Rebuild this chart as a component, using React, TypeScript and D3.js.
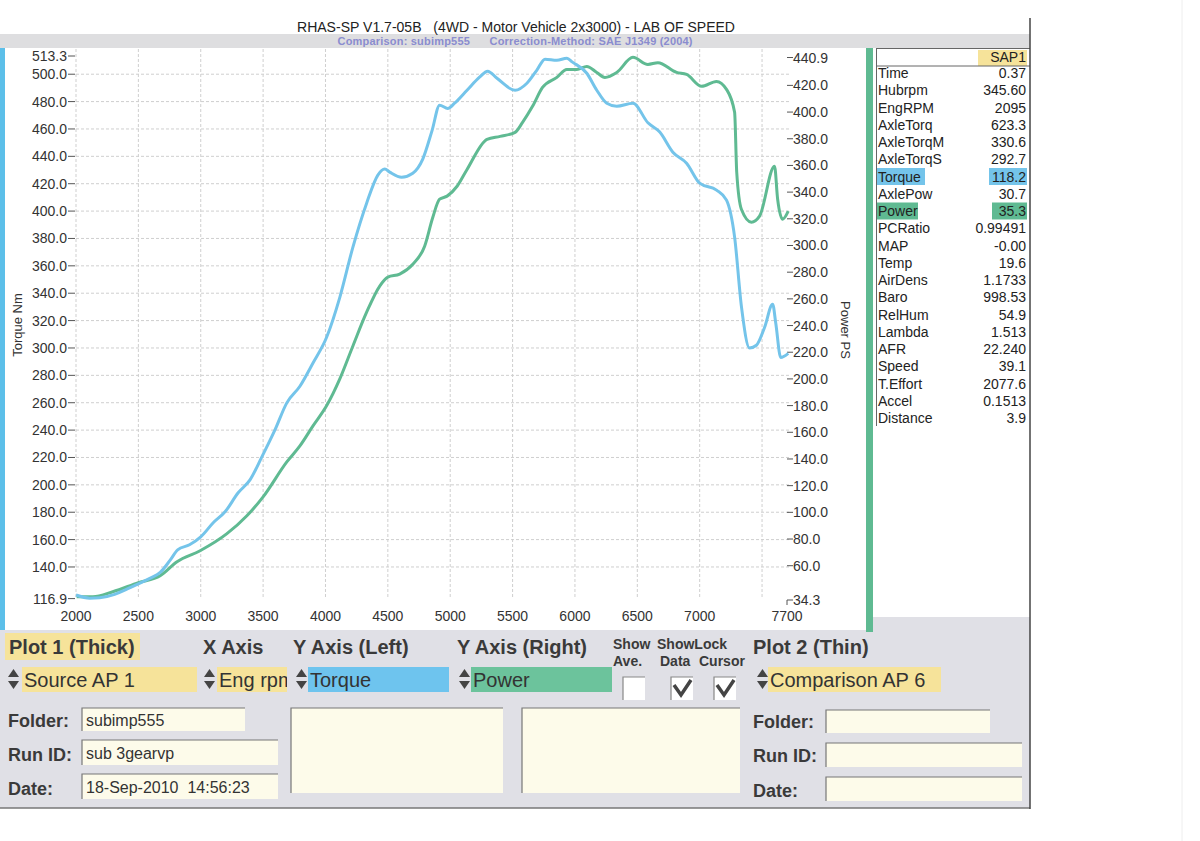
import React from "react";
import * as d3 from "d3";

// ---------- data ----------
const torqueRpm = [2000, 2110, 2190, 2310, 2400, 2500, 2600, 2675, 2755, 2815, 2910, 3000, 3100, 3195, 3300, 3395, 3490, 3595, 3690, 3795, 3900, 4010, 4115, 4220, 4330, 4420, 4475, 4515, 4610, 4700, 4780, 4855, 4915, 4980, 5035, 5135, 5235, 5300, 5375, 5520, 5615, 5695, 5760, 5855, 5935, 5980, 6095, 6175, 6255, 6335, 6465, 6585, 6680, 6785, 6895, 7000, 7135, 7215, 7280, 7335, 7400, 7455, 7520, 7585, 7610, 7650, 7710];
const torqueNm = [119.5, 117.2, 117.5, 120, 123.5, 127.7, 132, 136, 145, 152.5, 156.2, 162, 172.3, 180.3, 194.2, 203.6, 220.4, 240.1, 259.9, 272, 289, 308, 337, 373.7, 405.8, 426.3, 430.7, 428.5, 424.8, 427.7, 438, 459, 477.4, 475, 478.8, 488.3, 497.8, 502.2, 497, 488.3, 493.4, 503, 511, 510.2, 511.7, 508.8, 500.7, 488.3, 478.8, 476.6, 478.8, 464.5, 457.7, 443, 435, 420.4, 415.3, 408, 381, 330, 300, 302, 315, 332, 318, 293, 296];

const powerRpm = [2005, 2135, 2295, 2500, 2675, 2810, 2995, 3210, 3370, 3500, 3690, 3795, 3900, 4010, 4115, 4220, 4330, 4435, 4500, 4595, 4700, 4795, 4860, 4915, 4975, 5055, 5135, 5295, 5400, 5520, 5580, 5660, 5740, 5855, 5935, 6015, 6095, 6175, 6240, 6335, 6465, 6585, 6665, 6815, 6895, 7015, 7135, 7215, 7280, 7297, 7335, 7415, 7480, 7600, 7625, 7665, 7710];
const powerPS = [36.8, 36.8, 40.5, 47.3, 52.5, 63, 71.2, 84, 97.4, 111.6, 137.8, 149.8, 164.8, 180, 200, 224.7, 250, 269.6, 276.3, 278.6, 286, 299.5, 321, 334.7, 337, 344.4, 357, 379.6, 381.8, 384.8, 392.3, 404.3, 418.5, 426, 432, 432, 434.2, 429.7, 426, 429.7, 441, 435.7, 437, 429.7, 428.2, 419.3, 423, 417, 399.8, 354.9, 327, 317.5, 322, 359.4, 334.7, 319.7, 325.7];

const xTicks = [2000, 2500, 3000, 3500, 4000, 4500, 5000, 5500, 6000, 6500, 7000, 7700];
const xGrid = [2000, 2500, 3000, 3500, 4000, 4500, 5000, 5500, 6000, 6500, 7000, 7500];
const leftTicks = [116.9, 140, 160, 180, 200, 220, 240, 260, 280, 300, 320, 340, 360, 380, 400, 420, 440, 460, 480, 500, 513.3];
const rightTicks = [34.3, 60, 80, 100, 120, 140, 160, 180, 200, 220, 240, 260, 280, 300, 320, 340, 360, 380, 400, 420, 440.9];

const panelLabels = ["Time", "Hubrpm", "EngRPM", "AxleTorq", "AxleTorqM", "AxleTorqS", "Torque", "AxlePow", "Power", "PCRatio", "MAP", "Temp", "AirDens", "Baro", "RelHum", "Lambda", "AFR", "Speed", "T.Effort", "Accel", "Distance"];
const panelValues = ["0.37", "345.60", "2095", "623.3", "330.6", "292.7", "118.2", "30.7", "35.3", "0.99491", "-0.00", "19.6", "1.1733", "998.53", "54.9", "1.513", "22.240", "39.1", "2077.6", "0.1513", "3.9"];

const TITLE = "RHAS-SP V1.7-05B   (4WD - Motor Vehicle 2x3000) - LAB OF SPEED";
const SUBTITLE = "Comparison: subimp555      Correction-Method: SAE J1349 (2004)";

// ---------- styles ----------
const FONT = "'Liberation Sans', Arial, sans-serif";
const BLUE = "#74c4ea";
const GREEN = "#5fba92";
const TEXT = "#333";

function Spinner({ x, y }: { x: number; y: number }) {
  return (
    <g fill="#444">
      <path d={`M${x},${y + 8} L${x + 5.5},${y} L${x + 11},${y + 8} Z`} />
      <path d={`M${x},${y + 12} L${x + 5.5},${y + 20} L${x + 11},${y + 12} Z`} />
    </g>
  );
}

function InBox({ x, y, w, h, fill = "#fdfbea" }: { x: number; y: number; w: number; h: number; fill?: string }) {
  return (
    <g>
      <rect x={x} y={y} width={w} height={h} fill={fill} />
      <path d={`M${x},${y + h} L${x},${y} L${x + w},${y}`} fill="none" stroke="#777" strokeWidth={1.2} />
    </g>
  );
}

function Check({ x, y, checked }: { x: number; y: number; checked: boolean }) {
  return (
    <g>
      <rect x={x} y={y} width={22} height={23} fill="#fff" />
      <path d={`M${x},${y + 23} L${x},${y} L${x + 22},${y}`} fill="none" stroke="#888" strokeWidth={1.2} />
      {checked && (
        <path d={`M${x + 3},${y + 8} L${x + 10},${y + 18} L${x + 20},${y + 3}`} fill="none" stroke="#444" strokeWidth={3.5} strokeLinejoin="miter" />
      )}
    </g>
  );
}

export default function App() {
  const x = d3.scaleLinear().domain([2000, 7700]).range([76, 787]);
  const yL = d3.scaleLinear().domain([116.9, 513.3]).range([598.6, 56]);
  const yR = d3.scaleLinear().domain([34.3, 440.9]).range([600, 57.5]);

  const torqueLine = d3
    .line<number>()
    .x((_, i) => x(torqueRpm[i]))
    .y((d) => yL(d))
    .curve(d3.curveMonotoneX);
  const powerLine = d3
    .line<number>()
    .x((_, i) => x(powerRpm[i]))
    .y((d) => yR(d))
    .curve(d3.curveMonotoneX);

  const rowY = (i: number) => 73 + i * 17.25;

  return (
    <svg
      width={1200}
      height={841}
      style={{ position: "absolute", left: 0, top: 0, background: "#fff" }}
      fontFamily={FONT}
    >
      {/* top band */}
      <rect x={0} y={34} width={1030} height={14} fill="#dedee0" />
      {/* plot background */}
      <rect x={5} y={48} width={861} height={582} fill="#fff" />
      <rect x={0} y={48} width={5} height={582} fill="#5cbfe9" />
      <rect x={866} y={48} width={7} height={584} fill={GREEN} />

      {/* title */}
      <text x={516} y={32} textAnchor="middle" fontSize={15} fill="#222" textLength={438} lengthAdjust="spacingAndGlyphs" style={{ whiteSpace: "pre" }}>
        {TITLE}
      </text>
      <text x={515} y={45} textAnchor="middle" fontSize={11} fontWeight="bold" fill="#8a8ccf" textLength={355} lengthAdjust="spacing" style={{ whiteSpace: "pre" }}>
        {SUBTITLE}
      </text>

      {/* grid */}
      <g stroke="#cfcfcf" strokeWidth={1} strokeDasharray="3,2">
        {xGrid.map((t) => (
          <line key={"gx" + t} x1={x(t)} x2={x(t)} y1={49} y2={598.6} />
        ))}
        {leftTicks.slice(1, leftTicks.length - 1).map((t) => (
          <line key={"gy" + t} x1={76} x2={790} y1={yL(t)} y2={yL(t)} />
        ))}
      </g>

      {/* left axis */}
      <g fontSize={14} fill={TEXT}>
        {leftTicks.map((t) => (
          <g key={"lt" + t}>
            <line x1={68} x2={75} y1={yL(t)} y2={yL(t)} stroke="#555" strokeWidth={1} />
            <text x={67} y={yL(t) + 5} textAnchor="end">
              {t.toFixed(1)}
            </text>
          </g>
        ))}
      </g>
      {/* right axis */}
      <g fontSize={14} fill={TEXT}>
        {rightTicks.map((t) => (
          <g key={"rt" + t}>
            <line x1={787} x2={793} y1={yR(t)} y2={yR(t)} stroke="#555" strokeWidth={1} />
            <text x={793} y={yR(t) + 5}>
              {t.toFixed(1)}
            </text>
          </g>
        ))}
        <line x1={787} x2={787} y1={yR(34.3)} y2={yR(34.3) + 5} stroke="#555" />
      </g>
      {/* x axis */}
      <g fontSize={14} fill={TEXT}>
        {xTicks.map((t) => (
          <text key={"xt" + t} x={x(t)} y={621} textAnchor="middle">
            {t}
          </text>
        ))}
      </g>
      <text transform="translate(22,325) rotate(-90)" textAnchor="middle" fontSize={13} fill={TEXT}>
        Torque Nm
      </text>
      <text transform="translate(841,330) rotate(90)" textAnchor="middle" fontSize={13} fill={TEXT}>
        Power PS
      </text>

      {/* curves */}
      <path d={powerLine(powerPS) || ""} fill="none" stroke={GREEN} strokeWidth={3} strokeLinejoin="round" />
      <path d={torqueLine(torqueNm) || ""} fill="none" stroke={BLUE} strokeWidth={3} strokeLinejoin="round" />

      {/* data panel */}
      <rect x={876} y={48} width={154} height={569} fill="#fff" />
      <rect x={978} y={50} width={49} height={16} fill="#f6e39a" />
      <text x={1026} y={62} textAnchor="end" fontSize={14} fill="#222">
        SAP1
      </text>
      <line x1={876} x2={1030} y1={66} y2={66} stroke="#666" />
      <line x1={876} x2={1030} y1={48.5} y2={48.5} stroke="#666" />
      <line x1={876.5} x2={876.5} y1={48} y2={426} stroke="#666" />
      {panelLabels.map((l, i) => {
        const hl = l === "Torque" ? BLUE : l === "Power" ? GREEN : null;
        const lw = l === "Torque" ? 48 : 41;
        const vw = l === "Torque" ? 37 : 34;
        return (
          <g key={"p" + l}>
            {hl && <rect x={877} y={rowY(i) - 8.5} width={lw} height={17} fill={hl} />}
            {hl && <rect x={1026 - vw} y={rowY(i) - 8.5} width={vw + 1} height={17} fill={hl} />}
            <text x={878} y={rowY(i) + 5} fontSize={14} fill="#222">
              {l}
            </text>
            <text x={1026} y={rowY(i) + 5} fontSize={14} fill="#222" textAnchor="end">
              {panelValues[i]}
            </text>
          </g>
        );
      })}

      {/* bottom panel */}
      <rect x={0} y={630} width={1030} height={178} fill="#e0e0e6" />
      <rect x={873} y={617} width={157} height={14} fill="#e0e0e6" />
      <rect x={866} y={617} width={7} height={15} fill={GREEN} />
      <line x1={0} x2={1030} y1={808} y2={808} stroke="#777" strokeWidth={1.5} />
      <line x1={1030} x2={1030} y1={18} y2={809} stroke="#444" strokeWidth={1.5} />
      <line x1={1182} x2={1182} y1={0} y2={841} stroke="#eee" strokeWidth={1} />

      <rect x={5} y={633} width={135} height={27} fill="#f6e39a" />
      <g fontSize={20} fontWeight="bold" fill="#3a3a3a">
        <text x={9} y={654}>Plot 1 (Thick)</text>
        <text x={203} y={654}>X Axis</text>
        <text x={293} y={654}>Y Axis (Left)</text>
        <text x={457} y={654}>Y Axis (Right)</text>
        <text x={753} y={654}>Plot 2 (Thin)</text>
      </g>
      <g fontSize={14} fontWeight="bold" fill="#3a3a3a">
        <text x={613} y={649}>Show</text>
        <text x={657} y={649}>ShowLock</text>
        <text x={613} y={666}>Ave.</text>
        <text x={660} y={666}>Data</text>
        <text x={699} y={666}>Cursor</text>
      </g>

      <defs>
        <clipPath id="engclip">
          <rect x={217} y={667} width={70} height={25} />
        </clipPath>
      </defs>
      <Spinner x={8} y={669} />
      <rect x={22} y={667} width={175} height={25} fill="#f6e39a" />
      <Spinner x={204} y={669} />
      <rect x={217} y={667} width={70} height={25} fill="#f6e39a" />
      <Spinner x={296} y={669} />
      <rect x={308} y={667} width={141} height={25} fill="#6ec4ee" />
      <Spinner x={459} y={669} />
      <rect x={471} y={667} width={141} height={25} fill="#6cc39c" />
      <Spinner x={757} y={669} />
      <rect x={768} y={667} width={173} height={25} fill="#f6e39a" />
      <g fontSize={20} fill="#333">
        <text x={24} y={687}>Source AP 1</text>
        <text x={219} y={687} clipPath="url(#engclip)">Eng rpm</text>
        <text x={310} y={687}>Torque</text>
        <text x={473} y={687}>Power</text>
        <text x={770} y={687}>Comparison AP 6</text>
      </g>
      <Check x={623} y={677} checked={false} />
      <Check x={671} y={677} checked={true} />
      <Check x={714} y={677} checked={true} />

      <g fontSize={18} fontWeight="bold" fill="#3a3a3a">
        <text x={8} y={727}>Folder:</text>
        <text x={8} y={761}>Run ID:</text>
        <text x={8} y={795}>Date:</text>
        <text x={753} y={728}>Folder:</text>
        <text x={753} y={762}>Run ID:</text>
        <text x={753} y={797}>Date:</text>
      </g>
      <InBox x={82} y={708} w={163} h={23} />
      <InBox x={82} y={740} w={196} h={25} />
      <InBox x={82} y={774} w={196} h={25} />
      <InBox x={291} y={708} w={212} h={85} />
      <InBox x={522} y={708} w={218} h={85} />
      <InBox x={826} y={710} w={164} h={23} />
      <InBox x={826} y={743} w={196} h={24} />
      <InBox x={826} y={777} w={196} h={24} />
      <g fontSize={16} fill="#333">
        <text x={86} y={726}>subimp555</text>
        <text x={86} y={759}>sub 3gearvp</text>
        <text x={86} y={793} style={{ whiteSpace: "pre" }}>18-Sep-2010  14:56:23</text>
      </g>
    </svg>
  );
}
